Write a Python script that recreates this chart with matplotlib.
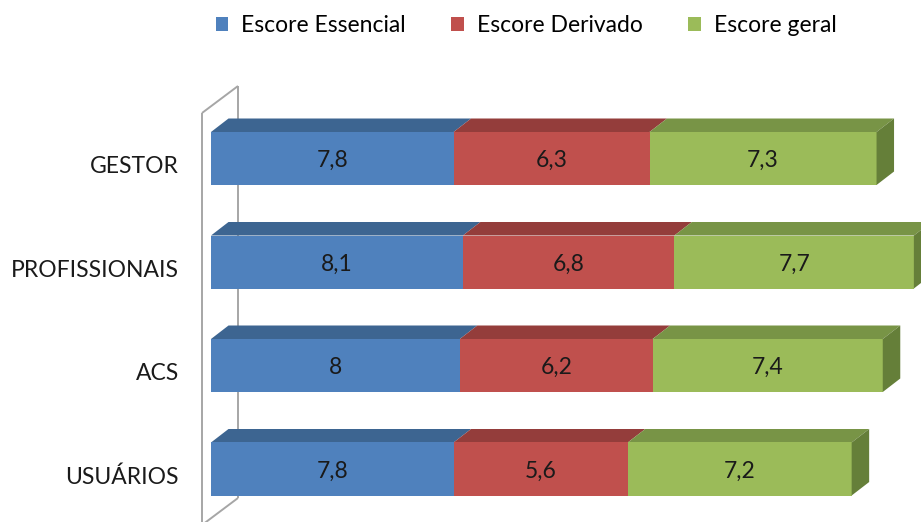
import numpy as np
import matplotlib.pyplot as plt
from matplotlib.patches import Polygon, Patch

categories = ['GESTOR', 'PROFISSIONAIS', 'ACS', 'USUÁRIOS']
series = ['Escore Essencial', 'Escore Derivado', 'Escore geral']
essencial = [7.8, 8.1, 8.0, 7.8]
derivado = [6.3, 6.8, 6.2, 5.6]
geral = [7.3, 7.7, 7.4, 7.2]
value_labels = [['7,8', '8,1', '8', '7,8'],
                ['6,3', '6,8', '6,2', '5,6'],
                ['7,3', '7,7', '7,4', '7,2']]

front_colors = ['#4F81BD', '#C0504D', '#9BBB59']
top_colors = ['#3D6591', '#943D3B', '#789446']
side_colors = ['#2F4F72', '#74302E', '#657F39']

plt.rcParams['font.family'] = ['Lato', 'DejaVu Sans']

W, H = 921, 522
fig = plt.figure(figsize=(W / 100, H / 100), dpi=100)
ax = fig.add_axes([0, 0, 1, 1])
ax.set_axis_off()

# pixel geometry of the plot: value 0 at x=211px, 31.1px per unit, rows 103.5px apart
px_x, x0 = 31.1, 211
px_y, y0 = 103.5, 158.5
ax.set_xlim(-x0 / px_x, (W - x0) / px_x)
ax.set_ylim((H - y0) / px_y, -y0 / px_y)

bar_h = 53 / px_y
dx = 17.5 / px_x        # depth offset of the bar boxes
dy = -13.5 / px_y

# back wall behind the bars
wall_front, wall_back = -9 / px_x, 27 / px_x
wall_top_f, wall_top_b = (113 - y0) / px_y, (86 - y0) / px_y
wall_bot_b = (498 - y0) / px_y
wall_bot_f = wall_bot_b + (wall_top_f - wall_top_b)
wall_kw = dict(color='#A6A6A6', lw=1.4, solid_capstyle='butt', zorder=1)
ax.plot([wall_front, wall_front], [wall_top_f, (H - y0) / px_y + 0.1], **wall_kw)
ax.plot([wall_front, wall_back], [wall_top_f, wall_top_b], **wall_kw)
ax.plot([wall_back, wall_back], [wall_top_b, wall_bot_b], **wall_kw)
ax.plot([wall_back, wall_front], [wall_bot_b, wall_bot_f], **wall_kw)

data = np.array([essencial, derivado, geral])
lefts = np.vstack([np.zeros(len(categories)), np.cumsum(data, axis=0)[:-1]])

for i in range(len(categories)):
    yt, yb = i - bar_h / 2, i + bar_h / 2
    for s in range(len(series)):
        x1, x2 = lefts[s, i], lefts[s, i] + data[s, i]
        ax.add_patch(Polygon([(x1, yt), (x2, yt), (x2 + dx, yt + dy), (x1 + dx, yt + dy)],
                             closed=True, fc=top_colors[s], ec='none', zorder=2))
        ax.add_patch(Polygon([(x1, yt), (x2, yt), (x2, yb), (x1, yb)],
                             closed=True, fc=front_colors[s], ec='none', zorder=3))
        ax.text((x1 + x2) / 2, i + 0.02, value_labels[s][i], ha='center', va='center',
                fontsize=16.5, color='#1A1A1A', zorder=5)
    xe = lefts[-1, i] + data[-1, i]
    ax.add_patch(Polygon([(xe, yt), (xe + dx, yt + dy), (xe + dx, yb + dy), (xe, yb)],
                         closed=True, fc=side_colors[-1], ec='none', zorder=3))
    ax.text(-32 / px_x, i + 0.08, categories[i], ha='right', va='center',
            fontsize=16.5, color='#1A1A1A')

handles = [Patch(fc=c, ec='none') for c in front_colors]
fig.legend(handles, series, loc='center', bbox_to_anchor=(526 / W, 1 - 26 / H), ncol=3,
           frameon=False, fontsize=16.5, handlelength=0.55, handleheight=0.55,
           handletextpad=0.55, columnspacing=2.0)

fig.savefig('out.png', dpi=100)
